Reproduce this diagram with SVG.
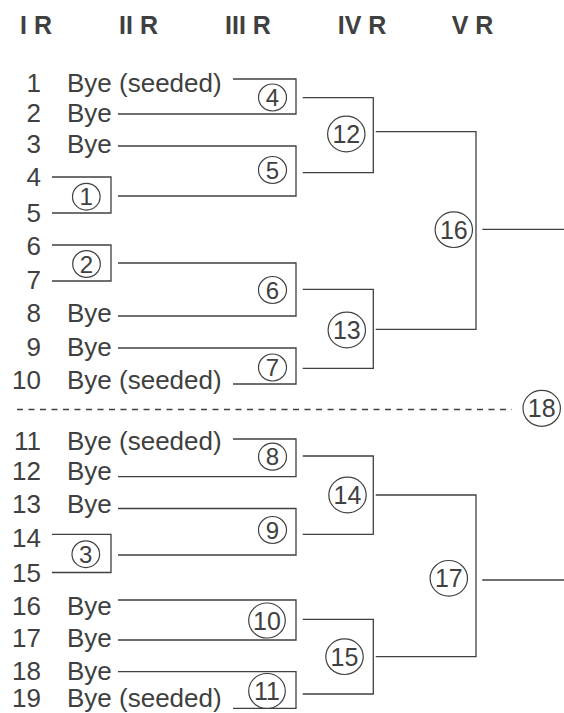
<svg xmlns="http://www.w3.org/2000/svg" width="564" height="713" viewBox="0 0 564 713">
<style>
text{font-family:"Liberation Sans",Arial,sans-serif;fill:#404040}
.h{font-size:25px;font-weight:bold;text-anchor:middle}
.n{font-size:26px;text-anchor:end}
.b{font-size:26px}
.c{font-size:24px;text-anchor:middle}
.c2{font-size:25px;text-anchor:middle}
.ln{fill:none;stroke:#404040;stroke-width:1.3}
.ci{fill:none;stroke:#404040;stroke-width:1.2}
.d{stroke-dasharray:6 5.5}
</style>
<rect width="564" height="713" fill="#fff"/>
<g id="headers">
<text class="h" x="36" y="34">I R</text>
<text class="h" x="138.5" y="34">II R</text>
<text class="h" x="248" y="34">III R</text>
<text class="h" x="362" y="34">IV R</text>
<text class="h" x="472.5" y="34">V R</text>
</g>
<g id="entrants">
<g id="p1"><text class="n" x="41" y="91.5">1</text><text class="b" x="67" y="91.5">Bye (seeded)</text></g>
<g id="p2"><text class="n" x="41" y="121.5">2</text><text class="b" x="67" y="121.5">Bye</text></g>
<g id="p3"><text class="n" x="41" y="153">3</text><text class="b" x="67" y="153">Bye</text></g>
<g id="p4"><text class="n" x="41" y="186">4</text></g>
<g id="p5"><text class="n" x="41" y="222">5</text></g>
<g id="p6"><text class="n" x="41" y="255">6</text></g>
<g id="p7"><text class="n" x="41" y="289">7</text></g>
<g id="p8"><text class="n" x="41" y="322">8</text><text class="b" x="67" y="322">Bye</text></g>
<g id="p9"><text class="n" x="41" y="356">9</text><text class="b" x="67" y="356">Bye</text></g>
<g id="p10"><text class="n" x="41" y="389">10</text><text class="b" x="67" y="389">Bye (seeded)</text></g>
<g id="p11"><text class="n" x="41" y="450">11</text><text class="b" x="67" y="450">Bye (seeded)</text></g>
<g id="p12"><text class="n" x="41" y="480">12</text><text class="b" x="67" y="480">Bye</text></g>
<g id="p13"><text class="n" x="41" y="513">13</text><text class="b" x="67" y="513">Bye</text></g>
<g id="p14"><text class="n" x="41" y="547">14</text></g>
<g id="p15"><text class="n" x="41" y="582">15</text></g>
<g id="p16"><text class="n" x="41" y="615">16</text><text class="b" x="67" y="615">Bye</text></g>
<g id="p17"><text class="n" x="41" y="647">17</text><text class="b" x="67" y="647">Bye</text></g>
<g id="p18"><text class="n" x="41" y="680">18</text><text class="b" x="67" y="680">Bye</text></g>
<g id="p19"><text class="n" x="41" y="707">19</text><text class="b" x="67" y="707">Bye (seeded)</text></g>
</g>
<g id="connectors">
<path class="ln" d="M52,177H111V213H52"/>
<path class="ln" d="M52,245H111V281H52"/>
<path class="ln" d="M52,534.3H111V572.5H52"/>
<path class="ln" d="M233,79H296V114H118"/>
<path class="ln" d="M118,146H296V196H118"/>
<path class="ln" d="M118,263H296V316H118"/>
<path class="ln" d="M118,348H296V384H233"/>
<path class="ln" d="M233,439H296V476.7H118"/>
<path class="ln" d="M118,508.5H296V555H118"/>
<path class="ln" d="M118,600H296V640H118"/>
<path class="ln" d="M118,671.7H296V708.3H233"/>
<path class="ln" d="M302.7,97.7H373.3V172.7H302.7"/>
<path class="ln" d="M302.7,289.3H373.3V368.3H302.7"/>
<path class="ln" d="M302.7,456H373.3V534.3H302.7"/>
<path class="ln" d="M302.7,619.3H373.3V694H302.7"/>
<path class="ln" d="M375.7,131.7H476V329.3H375.7"/>
<path class="ln" d="M375.7,495H476V656.7H375.7"/>
<path class="ln" d="M482.3,229.3H564"/>
<path class="ln" d="M482.3,580H564"/>
<path class="ln d" d="M17,409.5H512"/>
</g>
<g id="matches">
<g id="m1"><ellipse class="ci" cx="86.3" cy="196.7" rx="13.8" ry="13.4"/><text class="c" x="86.3" y="205.3">1</text></g>
<g id="m2"><ellipse class="ci" cx="86.5" cy="264" rx="13.8" ry="13.4"/><text class="c" x="86.5" y="272.6">2</text></g>
<g id="m3"><ellipse class="ci" cx="85.8" cy="554.2" rx="13.8" ry="13.4"/><text class="c" x="85.8" y="562.8">3</text></g>
<g id="m4"><ellipse class="ci" cx="272.5" cy="97.5" rx="14" ry="13.5"/><text class="c" x="272.5" y="106.1">4</text></g>
<g id="m5"><ellipse class="ci" cx="272.5" cy="170" rx="14" ry="13.5"/><text class="c" x="272.5" y="178.6">5</text></g>
<g id="m6"><ellipse class="ci" cx="272.5" cy="290" rx="14" ry="13.5"/><text class="c" x="272.5" y="298.6">6</text></g>
<g id="m7"><ellipse class="ci" cx="272.5" cy="367.5" rx="14" ry="13.5"/><text class="c" x="272.5" y="376.1">7</text></g>
<g id="m8"><ellipse class="ci" cx="272.5" cy="456.7" rx="14" ry="13.5"/><text class="c" x="272.5" y="465.3">8</text></g>
<g id="m9"><ellipse class="ci" cx="272.5" cy="530" rx="14" ry="13.5"/><text class="c" x="272.5" y="538.6">9</text></g>
<g id="m10"><ellipse class="ci" cx="267" cy="620.5" rx="18.3" ry="17.5"/><text class="c2" x="267" y="629.5">10</text></g>
<g id="m11"><ellipse class="ci" cx="267" cy="691" rx="18.3" ry="17.5"/><text class="c2" x="267" y="700">11</text></g>
<g id="m12"><ellipse class="ci" cx="346.3" cy="134" rx="18.7" ry="17.8"/><text class="c2" x="346.3" y="143">12</text></g>
<g id="m13"><ellipse class="ci" cx="346.8" cy="330" rx="18.7" ry="17.8"/><text class="c2" x="346.8" y="339">13</text></g>
<g id="m14"><ellipse class="ci" cx="347.5" cy="495" rx="18.7" ry="17.8"/><text class="c2" x="347.5" y="504">14</text></g>
<g id="m15"><ellipse class="ci" cx="344.5" cy="656.7" rx="18.7" ry="17.8"/><text class="c2" x="344.5" y="665.7">15</text></g>
<g id="m16"><ellipse class="ci" cx="453.8" cy="229.7" rx="18.7" ry="17.8"/><text class="c2" x="453.8" y="238.7">16</text></g>
<g id="m17"><ellipse class="ci" cx="448.8" cy="578.3" rx="18.7" ry="17.8"/><text class="c2" x="448.8" y="587.3">17</text></g>
<g id="m18"><ellipse class="ci" cx="541.7" cy="408.3" rx="18.7" ry="18"/><text class="c2" x="541.7" y="417.3">18</text></g>
</g>
</svg>
